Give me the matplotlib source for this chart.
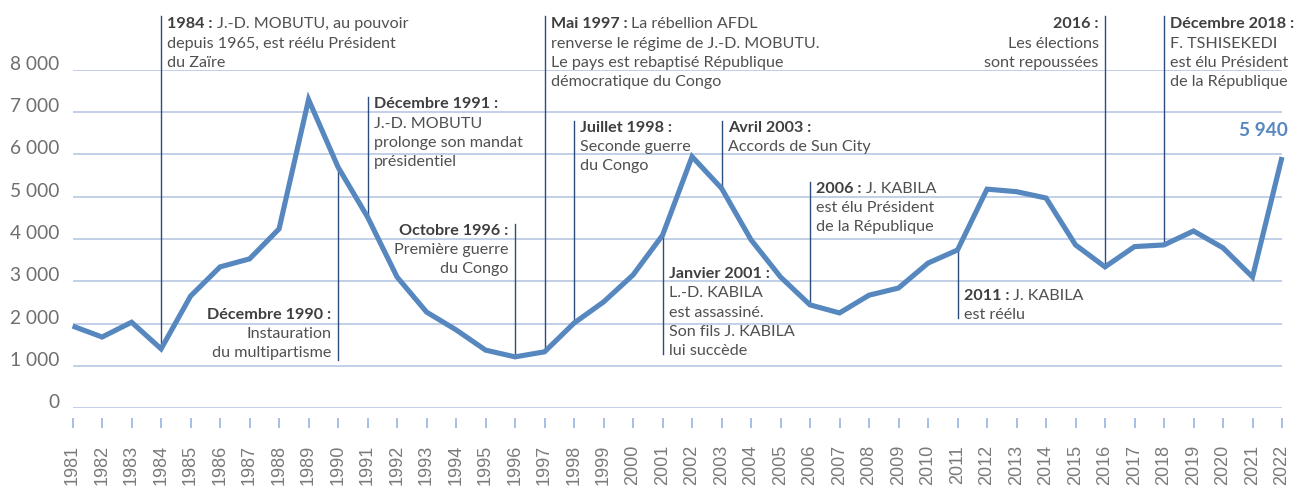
import matplotlib
matplotlib.use("Agg")
import matplotlib.pyplot as plt

# ---------------- data ----------------
years = list(range(1981, 2023))
values = [1940, 1680, 2030, 1400, 2650, 3340, 3530, 4240, 7300, 5700,
          4520, 3100, 2270, 1850, 1370, 1210, 1330, 2010, 2510, 3150,
          4090, 5950, 5200, 3980, 3100, 2440, 2250, 2670, 2840, 3430,
          3740, 5180, 5120, 4970, 3860, 3340, 3820, 3860, 4190, 3790,
          3100, 5940]
y_ticks = [0, 1000, 2000, 3000, 4000, 5000, 6000, 7000, 8000]
y_labels = ["0", "1 000", "2 000", "3 000", "4 000", "5 000", "6 000", "7 000", "8 000"]
x_labels = [str(y) for y in years]
last_label = "5 940"

# annotations: (bold part, regular part) per line
notes = [
    dict(year=1984, side="r", y_text=8986, y_end=9278,
         lines=[("1984 :", "J.-D. MOBUTU, au pouvoir"), ("", "depuis 1965, est réélu Président"), ("", "du Zaïre")]),
    dict(year=1990, side="l", y_text=2107, y_end=1136,
         lines=[("Décembre 1990 :", ""), ("", "Instauration"), ("", "du multipartisme")]),
    dict(year=1991, side="r", y_text=7089, y_end=7361,
         lines=[("Décembre 1991 :", ""), ("", "J.-D. MOBUTU"), ("", "prolonge son mandat"), ("", "présidentiel")]),
    dict(year=1996, side="l", y_text=4095, y_end=4355,
         lines=[("Octobre 1996 :", ""), ("", "Première guerre"), ("", "du Congo")]),
    dict(year=1997, side="r", y_text=8986, y_end=9278,
         lines=[("Mai 1997 :", "La rébellion AFDL"), ("", "renverse le régime de J.-D. MOBUTU."),
                ("", "Le pays est rebaptisé République"), ("", "démocratique du Congo")]),
    dict(year=1998, side="r", y_text=6540, y_end=6793,
         lines=[("Juillet 1998 :", ""), ("", "Seconde guerre"), ("", "du Congo")]),
    dict(year=2001, side="r", y_text=3070, y_end=1278,
         lines=[("Janvier 2001 :", ""), ("", "L.-D. KABILA"), ("", "est assassiné."),
                ("", "Son fils J. KABILA"), ("", "lui succède")]),
    dict(year=2003, side="r", y_text=6540, y_end=6793,
         lines=[("Avril 2003 :", ""), ("", "Accords de Sun City")]),
    dict(year=2006, side="r", y_text=5096, y_end=5349,
         lines=[("2006 :", "J. KABILA"), ("", "est élu Président"), ("", "de la République")]),
    dict(year=2011, side="r", y_text=2556, y_end=2130,
         lines=[("2011 :", "J. KABILA"), ("", "est réélu")]),
    dict(year=2016, side="l", y_text=8986, y_end=9278,
         lines=[("2016 :", ""), ("", "Les élections"), ("", "sont repoussées")]),
    dict(year=2018, side="r", y_text=8986, y_end=9278,
         lines=[("Décembre 2018 :", ""), ("", "F. TSHISEKEDI"), ("", "est élu Président"), ("", "de la République")]),
]

# ---------------- style ----------------
LINE_C = "#5787bf"
GRID_C = "#bccbe6"
TICK_C = "#8eaede"
ANN_C = "#2d4e7c"
TXT_C = "#505050"
BOLD_C = "#3f3f3f"
FONT = "Lato"
FS = 11.6
LH = 19.2  # line height in pixels

fig = plt.figure(figsize=(13.06, 4.88), dpi=100)
W, H = 1306, 488
ax = fig.add_axes([72.6 / W, 80 / H, (1282 - 72.6) / W, 338 / H])
ax.set_xlim(1981, 2022)
ax.set_ylim(0, 8000)

for s in ax.spines.values():
    s.set_visible(False)
ax.spines["bottom"].set_position(("outward", 7.2))

ax.set_yticks(y_ticks, y_labels)
ax.tick_params(axis="y", length=0, pad=9.4, labelsize=13.8, labelcolor="#6e6e6e")
for t in ax.get_yticklabels():
    t.set_fontfamily(FONT)
    t.set_verticalalignment("baseline")
ax.grid(axis="y", color=GRID_C, lw=1.3)
ax.set_axisbelow(True)

ax.set_xticks(years, x_labels, rotation=90)
ax.tick_params(axis="x", length=6.84, width=1.1, color=TICK_C, pad=12.6,
               labelsize=13, labelcolor="#7a7a7a")
for t in ax.get_xticklabels():
    t.set_fontfamily("Liberation Sans")

ax.plot(years, values, color=LINE_C, lw=3.7, solid_joinstyle="miter",
        solid_capstyle="butt", clip_on=False, zorder=5)

renderer = fig.canvas.get_renderer()
for n in notes:
    x = n["year"]
    v = values[years.index(x)]
    ax.plot([x, x], [v, n["y_end"]], color=ANN_C, lw=1.0, clip_on=False, zorder=3)
    right = n["side"] == "r"
    dx = 6.2 if right else -6.5
    for i, (b, r) in enumerate(n["lines"]):
        oy = -i * LH
        if right:
            off = dx
            if b:
                tb = ax.annotate(b, xy=(x, n["y_text"]), xytext=(off, oy), textcoords="offset pixels",
                                 ha="left", va="baseline", fontsize=FS, fontfamily=FONT,
                                 fontweight="bold", color=BOLD_C, annotation_clip=False)
                off += tb.get_window_extent(renderer).width + 4
            if r:
                ax.annotate(r, xy=(x, n["y_text"]), xytext=(off, oy), textcoords="offset pixels",
                            ha="left", va="baseline", fontsize=FS, fontfamily=FONT,
                            color=TXT_C, annotation_clip=False)
        else:
            txt = b if b else r
            ax.annotate(txt, xy=(x, n["y_text"]), xytext=(dx, oy), textcoords="offset pixels",
                        ha="right", va="baseline", fontsize=FS, fontfamily=FONT,
                        fontweight="bold" if b else "normal",
                        color=BOLD_C if b else TXT_C, annotation_clip=False)

ax.annotate(last_label, xy=(years[-1], values[-1]), xytext=(6, 21), textcoords="offset pixels",
            ha="right", va="baseline", fontsize=13.8, fontfamily=FONT, fontweight="bold",
            color=LINE_C, annotation_clip=False)

fig.savefig("out.png", dpi=100)
